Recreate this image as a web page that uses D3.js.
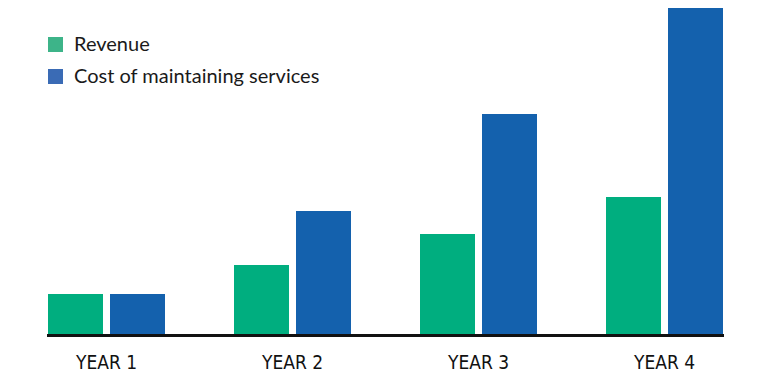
<!DOCTYPE html>
<html>
<head>
<meta charset="utf-8">
<script src="https://cdn.jsdelivr.net/npm/d3@7"></script>
<style>
html,body{margin:0;padding:0;background:#fff;}
svg{display:block;}
</style>
</head>
<body>
<svg id="chart" width="770" height="379"></svg>
<script>
const categories = ["YEAR 1", "YEAR 2", "YEAR 3", "YEAR 4"];
const seriesNames = ["Revenue", "Cost of maintaining services"];
const revenue = [40, 69, 100, 137];
const cost = [40, 123, 220, 326];
const barColors = ["#00ae7f", "#1461ad"];
const legendColors = ["#3db489", "#3a6bb5"];

const svg = d3.select("#chart");
const baseline = 334;
const x = d3.scaleBand().domain(categories).range([48, 723]).paddingInner(0.371).paddingOuter(0);
const xs = d3.scaleBand().domain(seriesNames).range([0, x.bandwidth()]).paddingInner(0.113).paddingOuter(0);
const y = d3.scaleLinear().domain([0, 326]).range([baseline, baseline - 326]);

const data = categories.map((c, i) => ({cat: c, vals: [revenue[i], cost[i]]}));

const g = svg.append("g");
data.forEach(d => {
  d.vals.forEach((v, j) => {
    g.append("rect")
      .attr("x", x(d.cat) + xs(seriesNames[j]))
      .attr("y", y(v))
      .attr("width", xs.bandwidth())
      .attr("height", baseline - y(v))
      .attr("fill", barColors[j]);
  });
});

// axis
const xAxis = d3.axisBottom(x).tickSize(0).tickPadding(22);
const ax = svg.append("g").attr("transform", `translate(0,${baseline})`).call(xAxis);
ax.select(".domain").remove();
ax.append("line").attr("x1", 47).attr("x2", 724).attr("y1", 1.5).attr("y2", 1.5)
  .attr("stroke", "#111").attr("stroke-width", 3);
ax.selectAll(".tick text")
  .attr("font-family", "'DejaVu Sans Condensed', 'DejaVu Sans', sans-serif")
  .attr("font-stretch", "condensed")
  .attr("font-size", 19)
  .attr("fill", "#111");

// legend
const leg = svg.append("g");
seriesNames.forEach((s, i) => {
  const yy = 37 + i * 32;
  leg.append("rect").attr("x", 48).attr("y", yy).attr("width", 15).attr("height", 15).attr("fill", legendColors[i]);
  leg.append("text").attr("x", 74).attr("y", yy + 14)
    .attr("font-family", "Lato, sans-serif").attr("font-size", 20).attr("fill", "#1a1a1a").text(s);
});
</script>
</body>
</html>
